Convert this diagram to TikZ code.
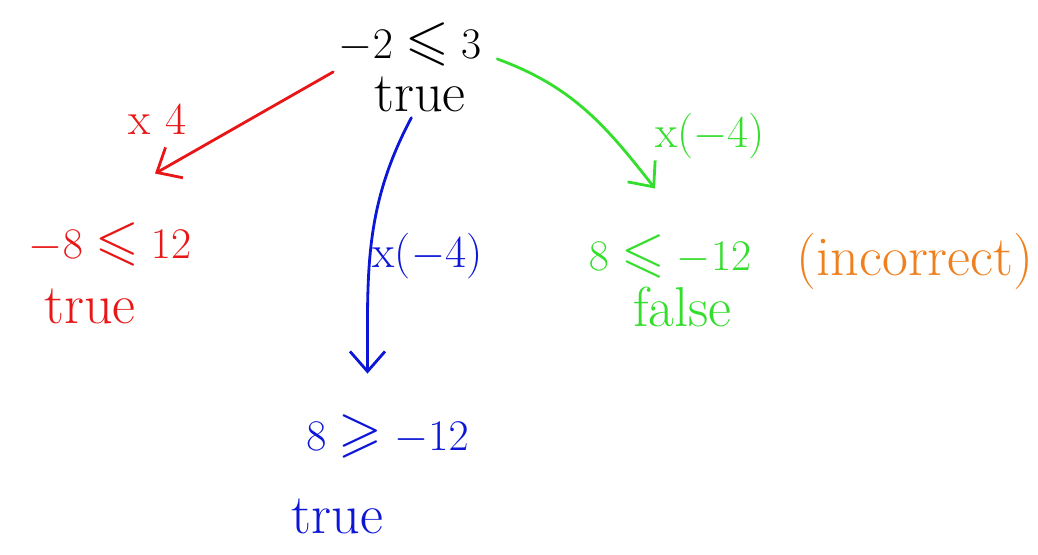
\documentclass[tikz,border=0pt]{standalone}
\usepackage{amssymb}
\usetikzlibrary{arrows.meta}
\definecolor{penred}{RGB}{232,22,22}
\definecolor{pengreen}{RGB}{52,222,44}
\definecolor{penblue}{RGB}{12,22,214}
\definecolor{penorange}{RGB}{240,128,30}
\begin{document}
\begin{tikzpicture}[font=\fontsize{32}{36}\selectfont,
    lbl/.style={font=\fontsize{26}{30}\selectfont},
    pen/.style={line width=1.6pt, line cap=round, -{Straight Barb[length=4mm,width=7mm]}}]
  \useasboundingbox (0,0) rectangle (20.76,11.08);
  % start
  \node (top1) at (8.2,10.2) {$-2\leqslant 3$};
  \node (top2) at (8.4,9.2) {true};
  % times 4
  \node[penred] (left1) at (2.2,6.2) {$-8\leqslant 12$};
  \node[penred] (left2) at (1.8,4.95) {true};
  \node[penred, lbl] (redlbl) at (3.15,8.7) {x\,\,4};
  \draw[pen, penred] (top1.200) -- ([xshift=9mm,yshift=8.5mm]left1.north);
  % times -4, sign flipped
  \node[penblue] (mid1) at (7.75,2.35) {$8\geqslant -12$};
  \node[penblue] (mid2) at (6.75,0.75) {true};
  \node[penblue, lbl] (bluelbl) at (8.55,5.95) {x($-$4)};
  \draw[pen, penblue] (top2.-110) to[out=-118,in=90] ([xshift=-4mm,yshift=7mm]mid1.north);
  % times -4, sign kept
  \node[pengreen] (right1) at (13.4,5.95) {$8\leqslant -12$};
  \node[pengreen] (right2) at (13.65,4.95) {false};
  \node[penorange] (wrong) at (18.3,5.85) {(incorrect)};
  \node[pengreen, lbl] (greenlbl) at (14.2,8.35) {x($-$4)};
  \draw[pen, pengreen] ([xshift=2mm,yshift=-3mm]top1.east) to[out=-20,in=128] ([xshift=-3mm,yshift=8mm]right1.north);
\end{tikzpicture}
\end{document}
